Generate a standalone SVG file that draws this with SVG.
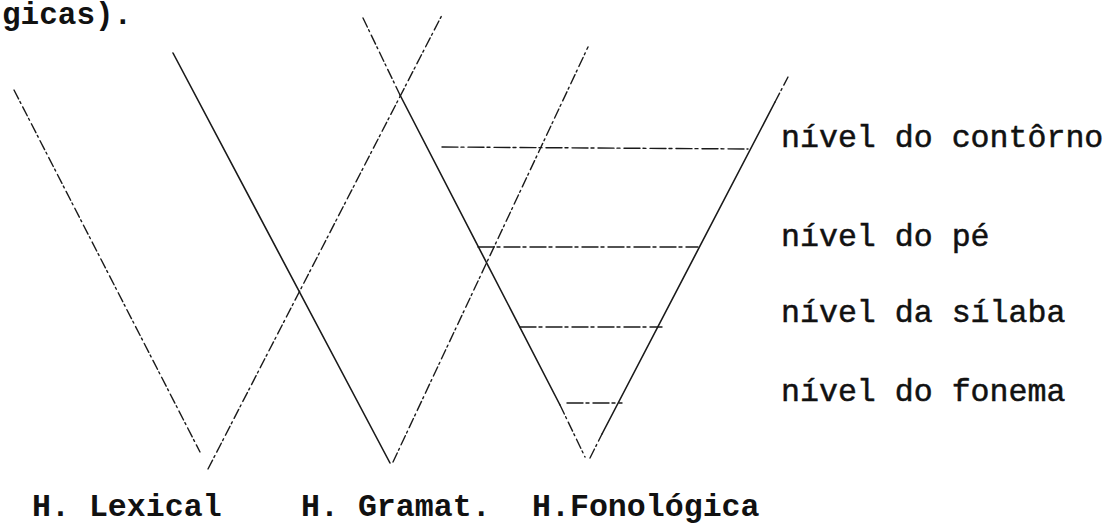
<svg xmlns="http://www.w3.org/2000/svg" width="1107" height="524" viewBox="0 0 1107 524">
<style>
.ln{stroke:#1a1a1a;stroke-width:1.4;fill:none;stroke-linecap:round}
.solid{stroke-width:1.6}
.dash{stroke-dasharray:10 3 2 4}
.lvl{stroke-dasharray:16 3 3 4}
.t{font-family:"Liberation Mono","Courier New",monospace;font-size:31.6px;fill:#111}
.b{font-weight:bold}
.r{stroke:#111;stroke-width:0.5}
</style>
<rect width="1107" height="524" fill="#fff"/>
<text class="t b" x="2" y="24" style="font-size:31px">gicas).</text>
<g id="h-lexical">
<line class="ln dash" x1="14" y1="90" x2="200" y2="452"/>
<line class="ln dash" x1="208" y1="469" x2="442" y2="15"/>
<text class="t b" x="32" y="516">H. Lexical</text>
</g>
<g id="h-gramat">
<line class="ln solid" x1="173" y1="53" x2="390" y2="463"/>
<line class="ln dash" x1="393" y1="462" x2="588" y2="47"/>
<text class="t b" x="301" y="516">H. Gramat.</text>
</g>
<g id="h-fonologica">
<line class="ln dash" x1="363" y1="18" x2="400" y2="95"/>
<line class="ln solid" x1="400" y1="95" x2="560" y2="405"/>
<line class="ln dash" x1="560" y1="405" x2="585" y2="457"/>
<line class="ln dash" x1="590" y1="458" x2="602" y2="434"/>
<line class="ln solid" x1="602" y1="434" x2="775" y2="102"/>
<line class="ln dash" x1="775" y1="102" x2="788" y2="77"/>
<text class="t b" x="532" y="516">H.Fonológica</text>
</g>
<g id="levels">
<g id="nivel-contorno">
<line class="ln lvl" x1="442" y1="147" x2="748" y2="149"/>
<text class="t r" x="781" y="147">nível do contôrno</text>
</g>
<g id="nivel-pe">
<line class="ln lvl" x1="478" y1="247" x2="698" y2="247"/>
<text class="t r" x="781" y="246">nível do pé</text>
</g>
<g id="nivel-silaba">
<line class="ln lvl" x1="520" y1="327" x2="662" y2="327"/>
<text class="t r" x="781" y="322">nível da sílaba</text>
</g>
<g id="nivel-fonema">
<line class="ln lvl" x1="567" y1="403" x2="622" y2="403"/>
<text class="t r" x="781" y="401">nível do fonema</text>
</g>
</g>
<g id="connectors"></g>
</svg>
